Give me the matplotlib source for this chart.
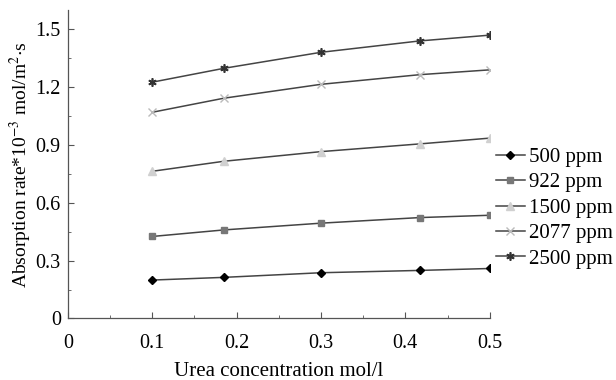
import matplotlib
matplotlib.use("Agg")
import matplotlib.pyplot as plt
from matplotlib.ticker import MultipleLocator

plt.rcParams['font.family'] = ['Liberation Serif', 'DejaVu Serif']
plt.rcParams['mathtext.fontset'] = 'stix'

urea = [0.1, 0.185, 0.3, 0.417, 0.5]
series_labels = ["500 ppm", "922 ppm", "1500 ppm", "2077 ppm", "2500 ppm"]
s500 = [0.199, 0.213, 0.237, 0.249, 0.259]
s922 = [0.425, 0.459, 0.494, 0.523, 0.535]
s1500 = [0.763, 0.815, 0.865, 0.905, 0.935]
s2077 = [1.069, 1.142, 1.214, 1.264, 1.289]
s2500 = [1.225, 1.297, 1.380, 1.439, 1.469]
xticks = [0, 0.1, 0.2, 0.3, 0.4, 0.5]
yticks = [0, 0.3, 0.6, 0.9, 1.2, 1.5]

fig = plt.figure(figsize=(6.16, 3.8), dpi=100)
ax = fig.add_axes([0.110, 0.162, 0.685, 0.812])

styles = [
    dict(marker='D', ms=4.5, mfc='black', mec='black'),
    dict(marker='s', ms=5, mfc='#777777', mec='#777777'),
    dict(marker='^', ms=5.5, mfc='#d0d0d0', mec='#d0d0d0'),
    dict(marker='x', ms=6, mfc='#bbbbbb', mec='#bbbbbb', mew=1.0),
    dict(marker=(6, 2, 0), ms=6, mfc='#333333', mec='#333333', mew=1.2),
]
for vals, lab, st in zip([s500, s922, s1500, s2077, s2500], series_labels, styles):
    ax.plot(urea, vals, color='#444444', lw=1.1, label=lab, **st)

ax.set_xlim(0, 0.5)
ax.set_ylim(0, 1.6)
ax.set_xticks(xticks)
ax.set_xticklabels(['0', '0.1', '0.2', '0.3', '0.4', '0.5'])
ax.set_yticks(yticks)
ax.set_yticklabels(['0', '0.3', '0.6', '0.9', '1.2', '1.5'])
ax.xaxis.set_minor_locator(MultipleLocator(0.05))
ax.yaxis.set_minor_locator(MultipleLocator(0.15))
for s in ['top', 'right']:
    ax.spines[s].set_visible(False)
for s in ['left', 'bottom']:
    ax.spines[s].set_color('#555555')
    ax.spines[s].set_linewidth(0.9)
ax.tick_params(which='major', direction='in', length=4, color='#555555', labelsize=14.5, pad=11)
ax.tick_params(which='minor', direction='in', length=2.5, color='#555555')
ax.tick_params(axis='y', which='major', pad=5)

ax.set_xlabel('Urea concentration mol/l', fontsize=15, labelpad=7)
ax.set_ylabel(r'Absorption rate*10$^{-3}$ mol/m$^{2}$$\cdot$s', fontsize=14, labelpad=1)

fig.legend(loc='upper left', bbox_to_anchor=(0.805, 0.612), frameon=False,
           fontsize=15, handlelength=1.4, handletextpad=0.2, labelspacing=0.28,
           borderaxespad=0, borderpad=0)

fig.savefig('out.png', dpi=100)
